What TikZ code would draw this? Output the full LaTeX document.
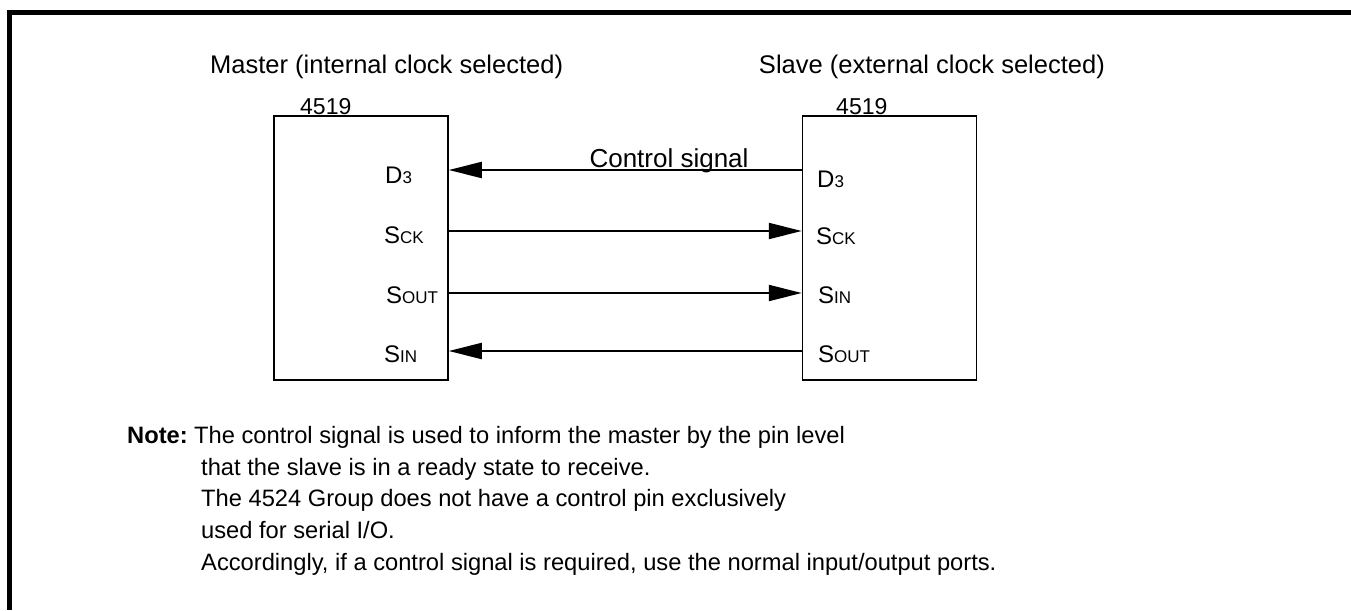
\documentclass[tikz,border=0pt]{standalone}
\usepackage{fontspec}
\setmainfont{Liberation Sans}
\usetikzlibrary{arrows.meta}
\newcommand{\pinname}[2]{\fontsize{24}{28}\selectfont #1\fontsize{17}{20}\selectfont #2}
\begin{document}
\begin{tikzpicture}[x=1pt,y=-1pt,
  chip/.style={draw, line width=1.5pt, minimum width=174pt, minimum height=264pt, inner sep=0pt},
  sig/.style={line width=2pt, -{Triangle[length=33pt,width=16pt]}},
  pinlbl/.style={anchor=base west, inner sep=0pt},
  ttl/.style={font=\fontsize{25.5}{30}\selectfont, inner sep=0pt},
  num/.style={font=\fontsize{23}{27}\selectfont, inner sep=0pt, anchor=base west},
  note/.style={font=\fontsize{23.7}{28}\selectfont, inner sep=0pt, anchor=base west}]
\useasboundingbox (0,0) rectangle (1351,610);
% frame
\draw[line width=5pt] (9.5,610) -- (9.5,12.5) -- (1351,12.5);
% titles
\node[ttl, anchor=base west] (tm) at (210,74) {Master (internal clock selected)};
\node[ttl, anchor=base east] (ts) at (1105,74) {Slave (external clock selected)};
% chips
\node[chip] (M) at (361,248) {};
\node[chip] (S) at (889.5,248) {};
\node[num] (nm) at (300,114) {4519};
\node[num] (ns) at (836,114) {4519};
% pin labels master
\node[pinlbl] (mD3) at (385,183) {\pinname{D}{3}};
\node[pinlbl] (mSCK) at (384,243) {\pinname{S}{CK}};
\node[pinlbl] (mSOUT) at (386,303) {\pinname{S}{OUT}};
\node[pinlbl] (mSIN) at (384,362) {\pinname{S}{IN}};
% pin labels slave
\node[pinlbl] (sD3) at (817,187) {\pinname{D}{3}};
\node[pinlbl] (sSCK) at (816,244) {\pinname{S}{CK}};
\node[pinlbl] (sSIN) at (818,303) {\pinname{S}{IN}};
\node[pinlbl] (sSOUT) at (818,362) {\pinname{S}{OUT}};
% pin coordinates
\coordinate (pmD) at (M.east |- 0,170);
\coordinate (psD) at (S.west |- 0,170);
\coordinate (pmC) at (M.east |- 0,231);
\coordinate (psC) at (S.west |- 0,231);
\coordinate (pmO) at (M.east |- 0,293);
\coordinate (psI) at (S.west |- 0,293);
\coordinate (pmI) at (M.east |- 0,351);
\coordinate (psO) at (S.west |- 0,351);
% connectors
\draw[sig] (psD) -- (pmD);
\draw[sig] (pmC) -- (psC);
\draw[sig] (pmO) -- (psI);
\draw[sig] (psO) -- (pmI);
\node[font=\fontsize{26}{31}\selectfont, inner sep=0pt, anchor=base] (cs) at (669,167) {Control signal};
% note
\node[note] (n0) at (127,443) {\textbf{Note:}};
\node[note] (n1) at (194,443) {The control signal is used to inform the master by the pin level};
\node[note] (n2) at (201,475) {that the slave is in a ready state to receive.};
\node[note] (n3) at (201,506) {The 4524 Group does not have a control pin exclusively};
\node[note] (n4) at (201,538) {used for serial I/O.};
\node[note] (n5) at (201,570) {Accordingly, if a control signal is required, use the normal input/output ports.};
\end{tikzpicture}
\end{document}
